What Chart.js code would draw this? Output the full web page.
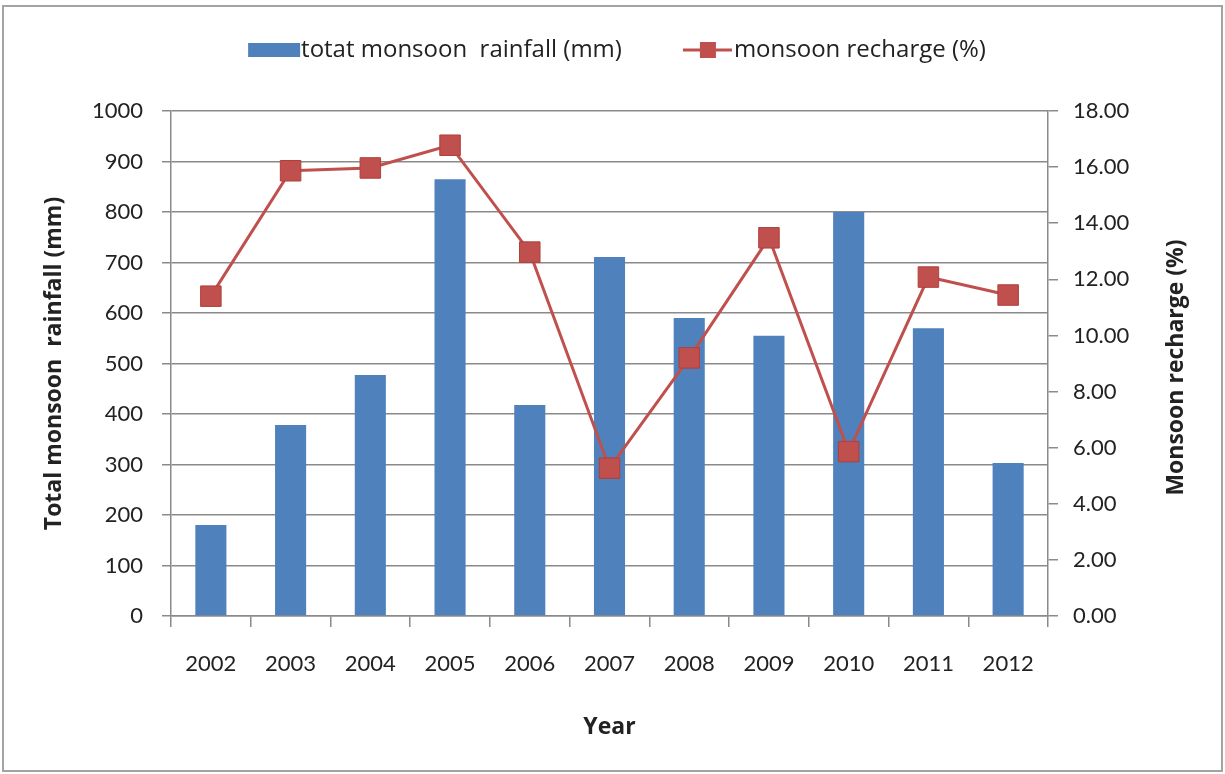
<!DOCTYPE html>
<html>
<head>
<meta charset="utf-8">
<title>Monsoon rainfall and recharge</title>
<script src="https://cdn.jsdelivr.net/npm/chart.js@4.4.1/dist/chart.umd.min.js"></script>
<style>
    html, body { margin: 0; padding: 0; background: #fff; }
    #wrap { width: 1225px; height: 774px; }
</style>
</head>
<body>
<div id="wrap"><canvas id="chart" width="1225" height="774"></canvas></div>
<script>
const years = ['2002', '2003', '2004', '2005', '2006', '2007', '2008', '2009', '2010', '2011', '2012'];
const rainfall = [180, 378, 477, 865, 418, 711, 590, 555, 800, 570, 303];
const recharge = [11.40, 15.87, 15.97, 16.78, 12.97, 5.27, 9.20, 13.48, 5.86, 12.08, 11.44];

const rainLabel = 'totat monsoon  rainfall (mm)';
const rechargeLabel = 'monsoon recharge (%)';

const BLUE = '#4F81BD';
const RED = '#C0504D';
const GRID = '#8a8a8a';
const TEXT = '#222';
const FONT = 'Lato, "Open Sans", sans-serif';
const TITLE_FONT = '"Open Sans", Lato, sans-serif';

const LEGEND_FONT = 24;
const LEGEND_BOX = 90;

// legend icons drawn on small canvases (bar swatch / line with square marker)
function makeIcon(kind) {
    const w = LEGEND_BOX + LEGEND_FONT;
    const c = document.createElement('canvas');
    c.width = w;
    c.height = 24;
    const g = c.getContext('2d');
    if (kind === 'bar') {
        g.fillStyle = BLUE;
        g.fillRect(w - 53, 5, 52, 14);
    } else {
        g.strokeStyle = RED;
        g.lineWidth = 3;
        g.beginPath();
        g.moveTo(w - 51, 12);
        g.lineTo(w - 2, 12);
        g.stroke();
        g.fillStyle = RED;
        g.fillRect(w - 34, 4, 16, 16);
    }
    return c;
}

const barIcon = makeIcon('bar');
const lineIcon = makeIcon('line');

// white page + grey frame
const framePlugin = {
    id: 'frame',
    beforeDraw(chart) {
        const ctx = chart.ctx;
        ctx.save();
        ctx.fillStyle = '#fff';
        ctx.fillRect(0, 0, chart.width, chart.height);
        ctx.strokeStyle = '#a3a3a3';
        ctx.lineWidth = 2;
        ctx.strokeRect(3, 6, 1219, 765);
        ctx.restore();
    }
};

// legend needs more room below it than Chart.js gives, and sits a bit left of centre
const legendSpace = {
    id: 'legendSpace',
    afterInit(chart) {
        const lg = chart.legend;
        const fit = lg.fit;
        lg.fit = function () {
            fit.call(this);
            this.height = 111 - 28;
        };
        const draw = lg.draw;
        lg.draw = function () {
            this.ctx.save();
            this.ctx.translate(-20, 0);
            draw.call(this);
            this.ctx.restore();
        };
    }
};

// right axis title reads bottom-to-top like the left one
const rightTitle = {
    id: 'rightTitle',
    afterDraw(chart) {
        const ctx = chart.ctx;
        const area = chart.chartArea;
        ctx.save();
        ctx.translate(1176, (area.top + area.bottom) / 2 + 4);
        ctx.rotate(-Math.PI / 2);
        ctx.font = 'bold 23px ' + TITLE_FONT;
        ctx.fillStyle = TEXT;
        ctx.textAlign = 'center';
        ctx.textBaseline = 'middle';
        ctx.fillText('Monsoon recharge (%)', 0, 0);
        ctx.restore();
    }
};

Chart.defaults.font.family = FONT;
Chart.defaults.color = TEXT;

const ctx = document.getElementById('chart').getContext('2d');
new Chart(ctx, {
    type: 'bar',
    data: {
        labels: years,
        datasets: [{
            type: 'line',
            label: rechargeLabel,
            data: recharge,
            yAxisID: 'y1',
            borderColor: RED,
            borderWidth: 3,
            pointStyle: 'rect',
            pointRadius: 14.5,
            pointBackgroundColor: RED,
            pointBorderColor: '#B03F3C',
            pointBorderWidth: 1,
            tension: 0,
            order: 1
        }, {
            label: rainLabel,
            data: rainfall,
            yAxisID: 'y',
            backgroundColor: BLUE,
            barPercentage: 0.39,
            categoryPercentage: 1.0,
            order: 2
        }]
    },
    options: {
        responsive: false,
        animation: false,
        devicePixelRatio: 1,
        layout: {
            padding: { top: 28, left: 0, right: 0, bottom: 0 }
        },
        plugins: {
            tooltip: { enabled: false },
            legend: {
                display: true,
                position: 'top',
                labels: {
                    usePointStyle: true,
                    pointStyleWidth: LEGEND_BOX,
                    boxHeight: LEGEND_FONT,
                    padding: 10,
                    color: TEXT,
                    font: { size: LEGEND_FONT, family: TITLE_FONT },
                    generateLabels: () => [
                        { text: rainLabel, pointStyle: barIcon, datasetIndex: 1, hidden: false, lineWidth: 0, fontColor: TEXT },
                        { text: rechargeLabel, pointStyle: lineIcon, datasetIndex: 0, hidden: false, lineWidth: 0, fontColor: TEXT }
                    ]
                }
            }
        },
        scales: {
            x: {
                offset: true,
                grid: {
                    offset: true,
                    drawOnChartArea: false,
                    drawTicks: true,
                    tickLength: 11,
                    color: GRID,
                    lineWidth: 1.5
                },
                border: { color: GRID, width: 1.5 },
                ticks: { font: { size: 22 }, color: TEXT, padding: 24, maxRotation: 0 },
                title: {
                    display: true,
                    text: 'Year',
                    color: TEXT,
                    font: { size: 23, weight: 'bold', family: TITLE_FONT },
                    padding: { top: 0, bottom: 33 }
                },
                afterFit: s => { s.height = 158; }
            },
            y: {
                position: 'left',
                min: 0,
                max: 1000,
                ticks: {
                    stepSize: 100,
                    font: { size: 22 },
                    color: TEXT,
                    padding: 19,
                    callback: v => String(v)
                },
                grid: { color: GRID, lineWidth: 1.5, tickLength: 9, drawTicks: true },
                border: { color: GRID, width: 1.5 },
                title: {
                    display: true,
                    text: 'Total monsoon  rainfall (mm)',
                    color: TEXT,
                    font: { size: 23, weight: 'bold', family: TITLE_FONT },
                    padding: { top: 41, bottom: 0 }
                },
                afterFit: s => { s.width = 171; }
            },
            y1: {
                position: 'right',
                min: 0,
                max: 18,
                ticks: {
                    stepSize: 2,
                    font: { size: 22 },
                    color: TEXT,
                    padding: 15,
                    callback: v => v.toFixed(2)
                },
                grid: { drawOnChartArea: false, color: GRID, lineWidth: 1.5, tickLength: 10, drawTicks: true },
                border: { color: GRID, width: 1.5 },
                afterFit: s => { s.width = 177; }
            }
        }
    },
    plugins: [framePlugin, legendSpace, rightTitle]
});
</script>
</body>
</html>
